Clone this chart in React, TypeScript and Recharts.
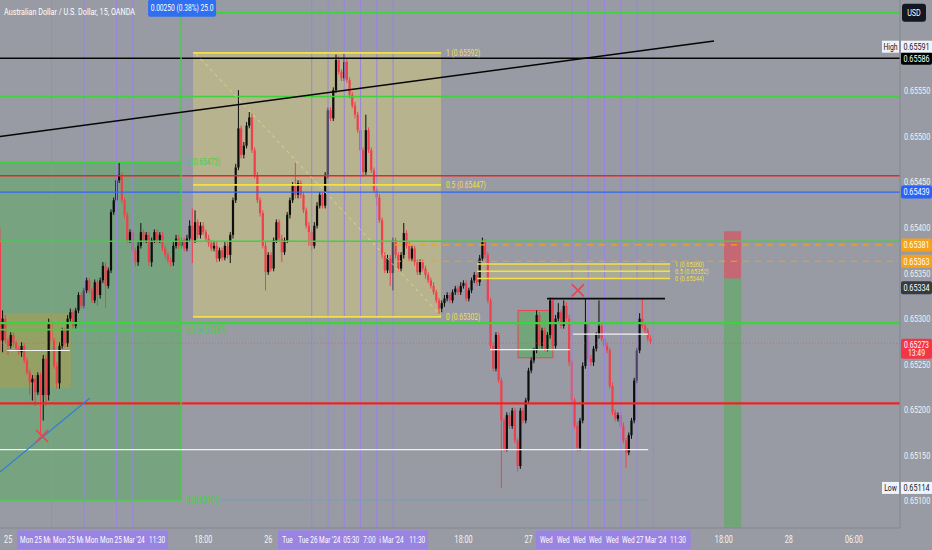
import React from 'react';
import { ComposedChart, Bar, XAxis, YAxis, ReferenceLine, ReferenceArea, ReferenceDot } from 'recharts';

// ---- data (prices in points above 0.65000, i.e. 0.65 + v / 100000) ----
const FIRST_OPEN = 386;
const closePts = [
  276,300,276,270,282,273,267,263,270,254,
  241,230,234,219,238,216,256,216,296,276,
  248,229,270,287,273,300,307,292,309,326,
  314,331,342,331,320,340,326,342,358,336,
  353,417,430,452,458,430,414,386,395,375,
  362,380,395,386,392,362,386,395,386,392,
  377,370,364,362,380,388,380,386,377,388,
  402,386,406,392,402,395,388,383,377,380,
  366,375,367,380,370,392,430,466,509,480,
  490,512,521,485,458,430,416,380,351,370,
  355,386,406,388,373,386,414,430,446,436,
  449,436,419,402,395,380,402,424,436,424,
  458,529,520,551,584,571,564,582,562,546,
  534,524,507,485,461,507,485,463,441,433,
  408,370,353,366,350,386,370,355,370,394,
  380,366,377,362,351,362,355,348,342,336,
  329,320,311,317,322,326,320,329,333,329,
  336,339,322,331,342,348,340,366,384,370,
  320,270,245,282,232,188,157,194,182,199,
  166,138,199,188,210,243,254,265,304,270,
  287,267,282,320,270,300,307,292,314,300,
  252,210,182,158,188,248,296,256,252,267,
  282,292,278,270,265,226,197,190,194,182,
  166,153,172,188,232,265,300,292,287,278,
  275,
];
const highPts = [
  400,309,304,279,285,285,276,270,274,273,
  257,244,238,238,241,241,260,260,300,299,
  279,252,274,290,290,304,311,310,312,329,
  329,334,345,345,334,343,343,345,362,362,
  356,420,433,455,471,461,433,417,398,398,
  378,384,405,398,395,395,389,398,398,395,
  395,380,373,367,384,392,392,389,389,392,
  408,421,419,409,406,406,398,392,386,384,
  384,378,378,384,384,395,433,470,551,512,
  494,516,527,525,488,461,433,419,384,373,
  373,389,409,409,392,389,417,433,450,471,
  452,452,439,422,406,398,406,428,439,439,
  461,532,532,554,590,588,574,591,585,565,
  549,538,527,510,488,524,510,488,466,444,
  437,411,373,370,370,389,389,373,373,405,
  397,384,380,380,365,365,365,358,351,345,
  340,332,323,320,326,329,329,332,336,336,
  340,342,342,334,345,351,351,370,389,387,
  373,323,274,285,285,235,191,197,197,202,
  202,169,202,202,213,246,257,268,309,307,
  290,290,285,323,323,304,317,310,320,318,
  304,255,213,186,191,252,322,299,260,270,
  285,320,296,282,274,268,230,200,197,197,
  186,169,175,191,235,268,306,322,296,290,
  282,
];
const lowPts = [
  265,263,273,260,267,269,264,260,258,251,
  238,216,210,204,216,174,188,204,210,270,
  245,223,223,267,269,269,297,289,289,306,
  311,311,328,328,317,317,314,322,339,312,
  333,350,414,427,449,427,410,383,383,372,
  357,358,377,383,383,358,357,383,383,383,
  374,366,361,357,358,377,377,377,374,374,
  385,361,383,388,388,392,385,379,374,374,
  362,363,364,364,366,361,388,427,463,476,
  476,487,509,482,454,427,412,377,331,348,
  352,352,383,385,362,370,383,410,427,432,
  432,432,416,399,380,375,377,399,421,421,
  421,454,517,517,548,568,561,561,559,542,
  531,520,504,482,456,458,482,460,438,424,
  405,366,350,350,336,331,366,352,352,366,
  377,363,363,358,348,348,352,344,339,333,
  326,317,305,307,313,319,317,317,326,326,
  326,333,319,319,328,339,336,336,363,366,
  317,267,242,242,229,114,154,154,179,179,
  163,132,135,185,185,207,240,251,262,267,
  267,264,264,278,267,267,297,289,289,297,
  248,207,179,154,155,185,245,253,248,248,
  264,278,275,267,262,223,194,187,187,179,
  163,136,150,168,185,229,262,289,284,275,
  272,
];

// time axis: candle index (15 min bars, index 3 = 25 Mar 00:00)
const timeTicks = [3, 75, 99, 171, 195, 267, 291, 315];
const timeLabels = ['25', '18:00', '26', '18:00', '27', '18:00', '28', '06:00'];
const priceTicks = [0.651, 0.6515, 0.652, 0.6525, 0.653, 0.6535, 0.654, 0.6545, 0.655, 0.6555];
const verticalMarks = [19, 31, 43, 49, 115, 121, 127, 133, 139, 145, 211, 217, 223, 229, 235, 241];

const toPrice = (v: number) => Math.round((0.65 + v / 100000) * 100000) / 100000;

const candles = closePts.map((c, i) => ({
  i,
  open: toPrice(i === 0 ? FIRST_OPEN : closePts[i - 1]),
  close: toPrice(c),
  high: toPrice(highPts[i]),
  low: toPrice(lowPts[i]),
}));

const X_MAX = 332;
const Y_MIN = 0.6507;
const Y_MAX = 0.6565;

const BG = '#989ba3';
const UP = '#0d0d0d';
const DOWN = '#f0404e';
const GREEN = '#3fd23f';
const RED = '#ee2424';
const YELLOW = '#f3df4a';
const ORANGE = '#f5a11c';
const PURPLE = '#9a84e2';
const FONT = "Roboto, 'Liberation Sans', sans-serif";
const SX = 0.76;

function SqText({ x, y, anchor = 'start', size = 9.5, fill = '#ffffff', sx = SX, children }: any) {
  return (
    <text
      transform={`translate(${x},${y}) scale(${sx},1)`}
      x={0}
      y={0}
      textAnchor={anchor}
      fontSize={size}
      fill={fill}
      fontFamily={FONT}
    >
      {children}
    </text>
  );
}

function Candle(props: any) {
  const { x, y, width, height, payload } = props;
  if (!payload || x == null || y == null) return null;
  const { open, close, high, low } = payload;
  const top = Math.min(y, y + height);
  const h = Math.abs(height);
  const span = high - low;
  const k = span > 0 ? h / span : 0;
  const yO = top + (high - open) * k;
  const yC = top + (high - close) * k;
  const color = close >= open ? UP : DOWN;
  const cx = x + width / 2;
  const bTop = Math.min(yO, yC);
  const bH = Math.max(1, Math.abs(yO - yC));
  return (
    <g>
      <line x1={cx} x2={cx} y1={top} y2={top + h} stroke={color} strokeWidth={1} />
      <rect x={cx - 1.1} y={bTop} width={2.2} height={bH} fill={color} />
    </g>
  );
}

const YTick = (p: any) => (
  <SqText x={p.x} y={p.y + 3.4} anchor="start" size={9.5} fill="#f4f4f4">
    {Number(p.payload.value).toFixed(5)}
  </SqText>
);

const XTick = (p: any) => {
  const idx = timeTicks.indexOf(p.payload.value);
  return (
    <SqText x={p.x} y={p.y + 8} anchor="middle" size={10} fill="#f4f4f4" sx={0.72}>
      {idx >= 0 ? timeLabels[idx] : ''}
    </SqText>
  );
};

const rightTag = (text: string, bg: string, fg: string, sub?: string) => (p: any) => {
  const vb = p.viewBox || {};
  const x = (vb.x ?? 0) + (vb.width ?? 0);
  const cy = vb.y ?? 0;
  if (sub) {
    return (
      <g>
        <rect x={x + 1} y={cy - 4.5} width={31} height={20} rx={2} fill={bg} />
        <SqText x={x + 16.5} y={cy + 4.3} anchor="middle" size={9} fill={fg}>{text}</SqText>
        <SqText x={x + 16.5} y={cy + 13} anchor="middle" size={9} fill={fg}>{sub}</SqText>
      </g>
    );
  }
  return (
    <g>
      <rect x={x + 1} y={cy - 6.5} width={31} height={13} rx={2} fill={bg} />
      <SqText x={x + 16.5} y={cy + 3.3} anchor="middle" fill={fg}>{text}</SqText>
    </g>
  );
};

const extremeTag = (name: string, value: string, dy: number) => (p: any) => {
  const vb = p.viewBox || {};
  const x = (vb.x ?? 0) + (vb.width ?? 0);
  const cy = (vb.y ?? 0) + dy;
  return (
    <g>
      <rect x={x - 18} y={cy - 6} width={17} height={12} fill="#f0f3fa" />
      <SqText x={x - 9.5} y={cy + 3.2} anchor="middle" size={9} fill="#131722">{name}</SqText>
      <rect x={x + 1} y={cy - 6} width={31} height={12} fill="#f0f3fa" />
      <SqText x={x + 16.5} y={cy + 3.2} anchor="middle" fill="#131722">{value}</SqText>
    </g>
  );
};

const usdTag = (p: any) => {
  const vb = p.viewBox || {};
  const x = (vb.x ?? 0) + (vb.width ?? 0);
  const cy = vb.y ?? 0;
  return (
    <g>
      <rect x={x + 2} y={cy - 9} width={24} height={18} rx={3} fill="#131722" />
      <SqText x={x + 14} y={cy + 3.3} anchor="middle" size={9.5} fill="#ffffff">USD</SqText>
    </g>
  );
};

const sideText = (text: string, fill: string, size = 9) => (p: any) => {
  const vb = p.viewBox || {};
  const x = (vb.x ?? 0) + (vb.width ?? 0) + 5;
  const cy = (vb.y ?? 0) + (vb.height ?? 0) / 2;
  return <SqText x={x} y={cy + size * 0.33} size={size} fill={fill} sx={0.74}>{text}</SqText>;
};

const purpleBox = (pieces: [number, string][]) => (p: any) => {
  const vb = p.viewBox || {};
  const x0 = vb.x ?? 0;
  const cy = (vb.y ?? 0) + (vb.height ?? 0) / 2;
  return (
    <g>
      {pieces.map(([dx, t], k) => (
        <SqText key={k} x={x0 + dx} y={cy + 3.3} size={9.5} sx={0.68}>{t}</SqText>
      ))}
    </g>
  );
};

const measureShape = (p: any) => (
  <g>
    <rect x={p.cx - 33} y={p.cy - 13} width={68} height={17} rx={2} fill="#2f6ff0" />
    <SqText x={p.cx + 1} y={p.cy - 1.8} anchor="middle" size={9} fill="#ffffff" sx={0.74}>0.00250 (0.38%) 25.0</SqText>
  </g>
);

const crossShape = (p: any) => (
  <path
    d={`M${p.cx - 6},${p.cy - 6}L${p.cx + 6},${p.cy + 6}M${p.cx + 6},${p.cy - 6}L${p.cx - 6},${p.cy + 6}`}
    stroke="#f0404e"
    strokeWidth={1.6}
    fill="none"
  />
);

export default function App() {
  return (
    <div style={{ position: 'absolute', left: 0, top: 0, width: 932, height: 550, background: BG, fontFamily: FONT, overflow: 'hidden' }}>
      <ComposedChart width={932} height={550} data={candles} margin={{ top: 0, right: 0, bottom: 0, left: 0 }}>
        <XAxis
          dataKey="i"
          type="number"
          domain={[0, X_MAX]}
          allowDataOverflow
          ticks={timeTicks}
          tick={XTick}
          tickLine={false}
          axisLine={{ stroke: '#84878f' }}
          height={22}
          tickSize={4}
          tickMargin={3}
        />
        <YAxis
          orientation="right"
          type="number"
          domain={[Y_MIN, Y_MAX]}
          allowDataOverflow
          ticks={priceTicks}
          tick={YTick}
          tickLine={false}
          axisLine={{ stroke: '#84878f' }}
          width={32}
          tickSize={2}
          tickMargin={2}
        />

        {/* zones */}
        <ReferenceArea x1={0} x2={66.8} y1={0.65101} y2={0.65472} fill="#4caf50" fillOpacity={0.42} stroke="none" />
        <ReferenceArea x1={71.2} x2={162.7} y1={0.65302} y2={0.65592} fill="#f5e663" fillOpacity={0.32} stroke="none" />
        <ReferenceArea x1={0} x2={26.2} y1={0.65224} y2={0.65306} fill="#ff9800" fillOpacity={0.22} stroke="none" />
        <ReferenceArea x1={176} x2={247.2} y1={0.65344} y2={0.6536} fill="#f5e663" fillOpacity={0.22} stroke="none" />
        <ReferenceArea x1={191.1} x2={204} y1={0.65257} y2={0.65309} fill="#4caf50" fillOpacity={0.5} stroke="#f0404e" strokeWidth={1} />
        <ReferenceArea x1={267.1} x2={273.4} y1={0.65344} y2={0.65396} fill="#f23645" fillOpacity={0.5} stroke="none" />
        <ReferenceArea x1={267.1} x2={273.4} y1={Y_MIN} y2={0.65344} fill="#4caf50" fillOpacity={0.5} stroke="none" />

        {/* purple time marks */}
        {verticalMarks.map((v) => (
          <ReferenceLine key={`v${v}`} x={v} stroke={PURPLE} strokeWidth={1} />
        ))}

        {/* horizontal levels */}
        <ReferenceLine y={0.65586} stroke="#050505" strokeWidth={1.6} label={rightTag('0.65586', '#000000', '#ffffff')} />
        <ReferenceLine y={0.65544} stroke={GREEN} strokeWidth={1.6} />
        <ReferenceLine y={0.65457} stroke={RED} strokeWidth={1.6} />
        <ReferenceLine y={0.65439} stroke="#2f66f5" strokeWidth={1.2} label={rightTag('0.65439', '#2962ff', '#ffffff')} />
        <ReferenceLine y={0.65385} stroke={GREEN} strokeWidth={1.6} />
        <ReferenceLine y={0.65295} stroke={GREEN} strokeWidth={2.2} />
        <ReferenceLine y={0.65273} stroke="#f23645" strokeWidth={0.8} strokeOpacity={0.6} strokeDasharray="1 2" label={rightTag('0.65273', '#f23645', '#ffffff', '13:49')} />
        <ReferenceLine y={0.65207} stroke={RED} strokeWidth={2.2} />
        <ReferenceLine y={0.65334} stroke="none" strokeOpacity={0} label={rightTag('0.65334', '#363a45', '#ffffff')} />
        <ReferenceLine y={0.65591} stroke="none" strokeOpacity={0} label={extremeTag('High', '0.65591', -7)} />
        <ReferenceLine y={0.65114} stroke="none" strokeOpacity={0} label={extremeTag('Low', '0.65114', 0)} />
        <ReferenceLine segment={[{ x: 145.7, y: 0.65381 }, { x: X_MAX, y: 0.65381 }]} stroke={ORANGE} strokeWidth={1.2} strokeDasharray="6 6" label={rightTag('0.65381', ORANGE, '#ffffff')} />
        <ReferenceLine segment={[{ x: 145.7, y: 0.65363 }, { x: X_MAX, y: 0.65363 }]} stroke={ORANGE} strokeWidth={1.2} strokeDasharray="6 6" label={rightTag('0.65363', ORANGE, '#ffffff')} />

        {/* measurement */}
        <ReferenceLine segment={[{ x: 66.8, y: 0.65636 }, { x: X_MAX, y: 0.65636 }]} stroke={GREEN} strokeWidth={1.4} label={usdTag} />
        <ReferenceLine segment={[{ x: 66.8, y: 0.65101 }, { x: 66.8, y: 0.65636 }]} stroke={GREEN} strokeWidth={1.4} />

        {/* left fib */}
        <ReferenceLine segment={[{ x: 0, y: 0.65472 }, { x: 66.8, y: 0.65472 }]} stroke={GREEN} strokeWidth={1.8} label={sideText('1 (0.65472)', GREEN)} />
        <ReferenceLine segment={[{ x: 0, y: 0.65288 }, { x: 66.8, y: 0.65288 }]} stroke={GREEN} strokeWidth={1.8} label={sideText('0.5 (0.65287)', GREEN)} />
        <ReferenceLine segment={[{ x: 0, y: 0.65101 }, { x: 66.8, y: 0.65101 }]} stroke={GREEN} strokeWidth={1.8} label={sideText('0 (0.65101)', GREEN)} />
        <ReferenceLine segment={[{ x: 80.8, y: 0.65101 }, { x: 239.1, y: 0.65101 }]} stroke="#5aa7cf" strokeWidth={0.8} />

        {/* big yellow fib */}
        <ReferenceLine segment={[{ x: 71.2, y: 0.65592 }, { x: 162.7, y: 0.65592 }]} stroke={YELLOW} strokeWidth={1.8} label={sideText('1 (0.65592)', YELLOW)} />
        <ReferenceLine segment={[{ x: 71.2, y: 0.65447 }, { x: 162.7, y: 0.65447 }]} stroke={YELLOW} strokeWidth={1.8} label={sideText('0.5 (0.65447)', YELLOW)} />
        <ReferenceLine segment={[{ x: 71.2, y: 0.65302 }, { x: 162.7, y: 0.65302 }]} stroke={YELLOW} strokeWidth={1.8} label={sideText('0 (0.65302)', YELLOW)} />
        <ReferenceLine segment={[{ x: 72.3, y: 0.65591 }, { x: 162.7, y: 0.65303 }]} stroke="#f3e27a" strokeWidth={1} strokeDasharray="3 4" strokeOpacity={0.8} />

        {/* small yellow fib */}
        <ReferenceLine segment={[{ x: 176, y: 0.6536 }, { x: 247.2, y: 0.6536 }]} stroke={YELLOW} strokeWidth={1.6} label={sideText('1 (0.65360)', YELLOW, 7.6)} />
        <ReferenceLine segment={[{ x: 176, y: 0.65352 }, { x: 247.2, y: 0.65352 }]} stroke={YELLOW} strokeWidth={1.6} label={sideText('0.5 (0.65352)', YELLOW, 7.6)} />
        <ReferenceLine segment={[{ x: 176, y: 0.65344 }, { x: 247.2, y: 0.65344 }]} stroke={YELLOW} strokeWidth={1.6} label={sideText('0 (0.65344)', YELLOW, 7.6)} />

        {/* white levels */}
        <ReferenceLine segment={[{ x: 0, y: 0.65156 }, { x: 239.1, y: 0.65156 }]} stroke="#f2f2f2" strokeWidth={1.2} />
        <ReferenceLine segment={[{ x: 211.4, y: 0.65283 }, { x: 239.1, y: 0.65283 }]} stroke="#f2f2f2" strokeWidth={1.2} />
        <ReferenceLine segment={[{ x: 180.8, y: 0.65266 }, { x: 210.3, y: 0.65266 }]} stroke="#f2f2f2" strokeWidth={1.2} />
        <ReferenceLine segment={[{ x: 2.6, y: 0.65265 }, { x: 25.8, y: 0.65265 }]} stroke="#f2f2f2" strokeWidth={1.2} />
        <ReferenceLine segment={[{ x: 201.8, y: 0.65322 }, { x: 245.3, y: 0.65322 }]} stroke="#0a0a0a" strokeWidth={1.6} />

        {/* trend lines */}
        <ReferenceLine segment={[{ x: 0, y: 0.655 }, { x: 263.4, y: 0.65605 }]} stroke="#050505" strokeWidth={1.6} />
        <ReferenceLine segment={[{ x: 0, y: 0.651315 }, { x: 33.2, y: 0.652128 }]} stroke="#2f7fd6" strokeWidth={1.2} />

        <Bar dataKey={(d: any) => [d.low, d.high]} shape={Candle} barSize={3} isAnimationActive={false} />

        <ReferenceDot x={15.5} y={0.65171} r={6} shape={crossShape} />
        <ReferenceDot x={213.2} y={0.65331} r={6} shape={crossShape} />
        <ReferenceDot x={66.8} y={0.65636} r={4} shape={measureShape} />

        {/* purple time-axis labels of the marks */}
        <ReferenceArea x1={6.3} x2={62} y1={0.650467} y2={0.650676} fill={PURPLE} fillOpacity={1} stroke="none" ifOverflow="visible"
          label={{ content: purpleBox([[3, 'Mon 25 Mı'], [36, 'Mon 25 Mı'], [68, 'Mon'], [83, "Mon 25 Mar '24"], [132, '11:30']]) }} />
        <ReferenceArea x1={102.6} x2={157.9} y1={0.650467} y2={0.650676} fill={PURPLE} fillOpacity={1} stroke="none" ifOverflow="visible"
          label={{ content: purpleBox([[4, 'Tue'], [20, "Tue 26 Mar '24"], [65, '05:30'], [85, '7:00'], [101, "i Mar '24"], [131, '11:30']]) }} />
        <ReferenceArea x1={197.7} x2={254.8} y1={0.650467} y2={0.650676} fill={PURPLE} fillOpacity={1} stroke="none" ifOverflow="visible"
          label={{ content: purpleBox([[4, 'Wed'], [21, 'Wed'], [37, 'Wed'], [53, 'Wed'], [70, 'Wed'], [86, "Wed 27 Mar '24"], [134, '11:30']]) }} />
      </ComposedChart>
      <div style={{ position: 'absolute', left: 4, top: 6, color: '#ffffff', fontSize: 9.5, fontFamily: FONT, pointerEvents: 'none', whiteSpace: 'nowrap', transform: 'scaleX(0.76)', transformOrigin: 'left top' }}>
        Australian Dollar / U.S. Dollar, 15, OANDA
      </div>
    </div>
  );
}
